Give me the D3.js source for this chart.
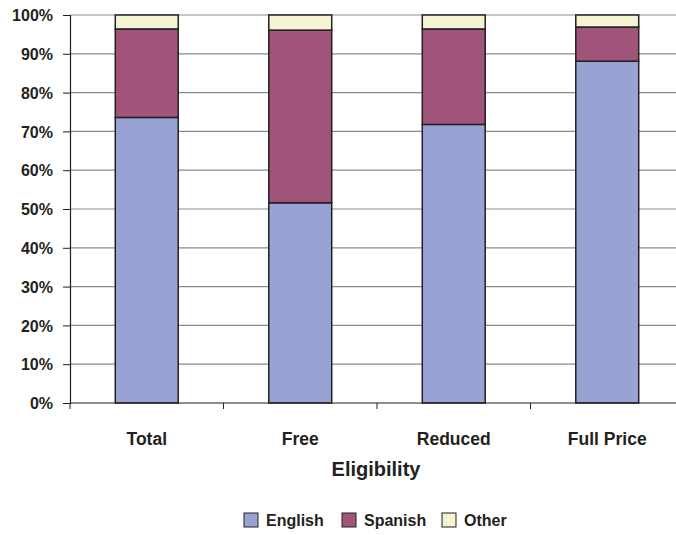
<!DOCTYPE html>
<html>
<head>
<meta charset="utf-8">
<script src="https://cdn.jsdelivr.net/npm/d3@7"></script>
<style>
  body { margin: 0; background: #fff; }
  svg text { font-family: "Liberation Sans", Arial, sans-serif; font-weight: bold; fill: #231f20; }
</style>
</head>
<body>
<svg id="chart" width="676" height="535"></svg>
<script>
// Language share by meal eligibility group (percent)
const categories = ["Total", "Free", "Reduced", "Full Price"];
const seriesNames = ["English", "Spanish", "Other"];
const english = [73.6, 51.6, 71.8, 88.1];
const spanish = [22.8, 44.5, 24.6, 8.8];
const other   = [3.6, 3.9, 3.6, 3.1];
const yTicks = [0, 10, 20, 30, 40, 50, 60, 70, 80, 90, 100];
const colors = ["#99a3d3", "#a05479", "#f5f4d2"];

const rows = categories.map((c, i) => ({ cat: c, English: english[i], Spanish: spanish[i], Other: other[i] }));
const stack = d3.stack().keys(seriesNames)(rows);

const svg = d3.select("#chart");
const plotLeft = 70, plotRight = 684, plotTop = 15, plotBottom = 403;

const x = d3.scaleBand().domain(categories).range([plotLeft, plotRight]).paddingInner(0.59).paddingOuter(0.295);
const y = d3.scaleLinear().domain([0, 100]).range([plotBottom, plotTop]);
const color = d3.scaleOrdinal().domain(seriesNames).range(colors);

// horizontal gridlines
svg.append("g").selectAll("line").data(yTicks.filter(t => t > 0)).join("line")
  .attr("x1", plotLeft).attr("x2", 676)
  .attr("y1", d => y(d)).attr("y2", d => y(d))
  .attr("stroke", "#8a8c8e").attr("stroke-width", 1.2);

// stacked bars
svg.append("g").selectAll("g").data(stack).join("g")
  .attr("fill", d => color(d.key))
  .selectAll("rect").data(d => d).join("rect")
  .attr("x", d => x(d.data.cat))
  .attr("width", x.bandwidth())
  .attr("y", d => y(d[1]))
  .attr("height", d => y(d[0]) - y(d[1]))
  .attr("stroke", "#231f20").attr("stroke-width", 1.5);

// y axis
const yAxis = svg.append("g").attr("transform", `translate(${plotLeft},0)`)
  .call(d3.axisLeft(y).tickValues(yTicks).tickFormat(d => d + "%").tickSize(7).tickPadding(10));
yAxis.select(".domain").attr("stroke", "#231f20").attr("stroke-width", 1.2);
yAxis.selectAll(".tick line").attr("stroke", "#231f20");
yAxis.selectAll(".tick text").style("font-size", "16px").attr("dy", "0.36em").attr("fill", "#231f20");

// x axis with ticks between categories
svg.append("line").attr("x1", plotLeft).attr("x2", 676).attr("y1", plotBottom).attr("y2", plotBottom)
  .attr("stroke", "#231f20").attr("stroke-width", 1.2);
const step = x.step();
const boundaries = d3.range(categories.length).map(i => plotLeft + i * step);
svg.append("g").selectAll("line").data(boundaries).join("line")
  .attr("x1", d => d).attr("x2", d => d).attr("y1", plotBottom).attr("y2", plotBottom + 6)
  .attr("stroke", "#231f20");

svg.append("g").selectAll("text").data(categories).join("text")
  .attr("x", d => x(d) + x.bandwidth() / 2).attr("y", 445)
  .attr("text-anchor", "middle").style("font-size", "17.5px").text(d => d);

svg.append("text").attr("x", 376).attr("y", 476).attr("text-anchor", "middle")
  .style("font-size", "20px").text("Eligibility");

// legend
const legendX = [244, 342, 442];
const lg = svg.append("g").selectAll("g").data(seriesNames).join("g")
  .attr("transform", (d, i) => `translate(${legendX[i]},513)`);
lg.append("rect").attr("width", 14).attr("height", 14)
  .attr("fill", d => color(d)).attr("stroke", "#231f20").attr("stroke-width", 1);
lg.append("text").attr("x", 22).attr("y", 13).style("font-size", "16px").text(d => d);
</script>
</body>
</html>
